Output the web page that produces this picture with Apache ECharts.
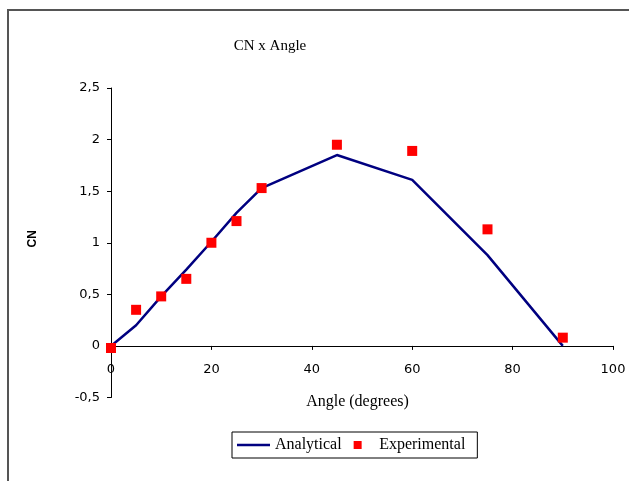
<!DOCTYPE html>
<html>
<head>
<meta charset="utf-8">
<script src="https://cdn.jsdelivr.net/npm/echarts@6/dist/echarts.min.js"></script>
<style>
  html, body { margin: 0; padding: 0; background: #fff; }
  #chart { width: 629px; height: 481px; }
</style>
</head>
<body>
<div id="chart"></div>
<script>
// Normal-force coefficient versus angle of attack
const angles = [0, 5, 10, 15, 20, 25, 30, 45, 60, 75, 90];
const analytical = [0, 0.20, 0.48, 0.74, 1.01, 1.29, 1.53, 1.85, 1.61, 0.88, 0];
const experimental = [-0.02, 0.35, 0.48, 0.65, 1.00, 1.21, 1.53, 1.95, 1.89, 1.13, 0.08];
const yTicks = [-0.5, 0, 0.5, 1, 1.5, 2, 2.5];
const xTicks = [0, 20, 40, 60, 80, 100];

const serif = '"Liberation Serif", "Times New Roman", serif';
const sans = '"DejaVu Sans", Arial, sans-serif';
const boldSans = '"Liberation Sans", Arial, sans-serif';

const chart = echarts.init(document.getElementById('chart'), null, { renderer: 'canvas' });

// distance from the bottom of the plot to the zero line, so the x labels sit under y = 0
const zeroOffset = 309.5 * (0 - yTicks[0]) / (yTicks[yTicks.length - 1] - yTicks[0]);

chart.setOption({
  animation: false,
  backgroundColor: '#fff',
  graphic: [{
    type: 'rect',
    shape: { x: 8, y: 10, width: 700, height: 600 },
    style: { fill: 'none', stroke: '#555', lineWidth: 2 },
    silent: true
  }],
  title: {
    text: 'CN x Angle',
    left: 265,
    top: 34,
    textAlign: 'center',
    textStyle: { fontFamily: serif, fontSize: 15, fontWeight: 'normal', color: '#000' }
  },
  grid: { left: 111, right: 16, top: 88, bottom: 83.5, containLabel: false },
  xAxis: {
    type: 'value',
    min: xTicks[0],
    max: xTicks[xTicks.length - 1],
    interval: 20,
    name: 'Angle (degrees)',
    nameLocation: 'middle',
    nameGap: 48 - zeroOffset,
    nameTextStyle: { fontFamily: serif, fontSize: 16, color: '#000', padding: [0, 9, 0, 0] },
    axisLine: { onZero: true, lineStyle: { color: '#000', width: 1 } },
    axisTick: { show: true, inside: false, length: 4, lineStyle: { color: '#000' } },
    axisLabel: { fontFamily: sans, fontSize: 13, color: '#000', margin: 17 - zeroOffset },
    splitLine: { show: false }
  },
  yAxis: {
    type: 'value',
    min: yTicks[0],
    max: yTicks[yTicks.length - 1],
    interval: 0.5,
    name: 'CN',
    nameLocation: 'middle',
    nameGap: 72,
    nameRotate: 90,
    nameTextStyle: { fontFamily: boldSans, fontSize: 12, fontWeight: 'bold', color: '#000', padding: [0, 0, 0, 8] },
    axisLine: { show: true, lineStyle: { color: '#000', width: 1 } },
    axisTick: { show: true, inside: false, length: 4, lineStyle: { color: '#000' } },
    axisLabel: {
      fontFamily: sans, fontSize: 13, color: '#000', margin: 11,
      formatter: v => String(v).replace('.', ',')
    },
    splitLine: { show: false }
  },
  legend: {
    left: 232,
    top: 432,
    orient: 'horizontal',
    itemWidth: 33,
    itemHeight: 8,
    itemGap: 12,
    padding: [5, 12, 5, 5],
    borderColor: '#000',
    borderWidth: 1,
    symbolKeepAspect: true,
    textStyle: { fontFamily: serif, fontSize: 16, color: '#000' },
    data: [
      { name: 'Analytical', icon: 'path://M0,0h33v2.5h-33z' },
      { name: 'Experimental', icon: 'path://M0,0h10v10h-10z' }
    ]
  },
  series: [
    {
      name: 'Analytical',
      type: 'line',
      data: angles.map((a, i) => [a, analytical[i]]),
      symbol: 'none',
      smooth: false,
      lineStyle: { color: '#000080', width: 2.5 },
      itemStyle: { color: '#000080' },
      z: 2
    },
    {
      name: 'Experimental',
      type: 'scatter',
      data: angles.map((a, i) => [a, experimental[i]]),
      symbol: 'rect',
      symbolSize: 10,
      itemStyle: { color: '#ff0000', opacity: 1 },
      z: 3
    }
  ]
});
</script>
</body>
</html>
